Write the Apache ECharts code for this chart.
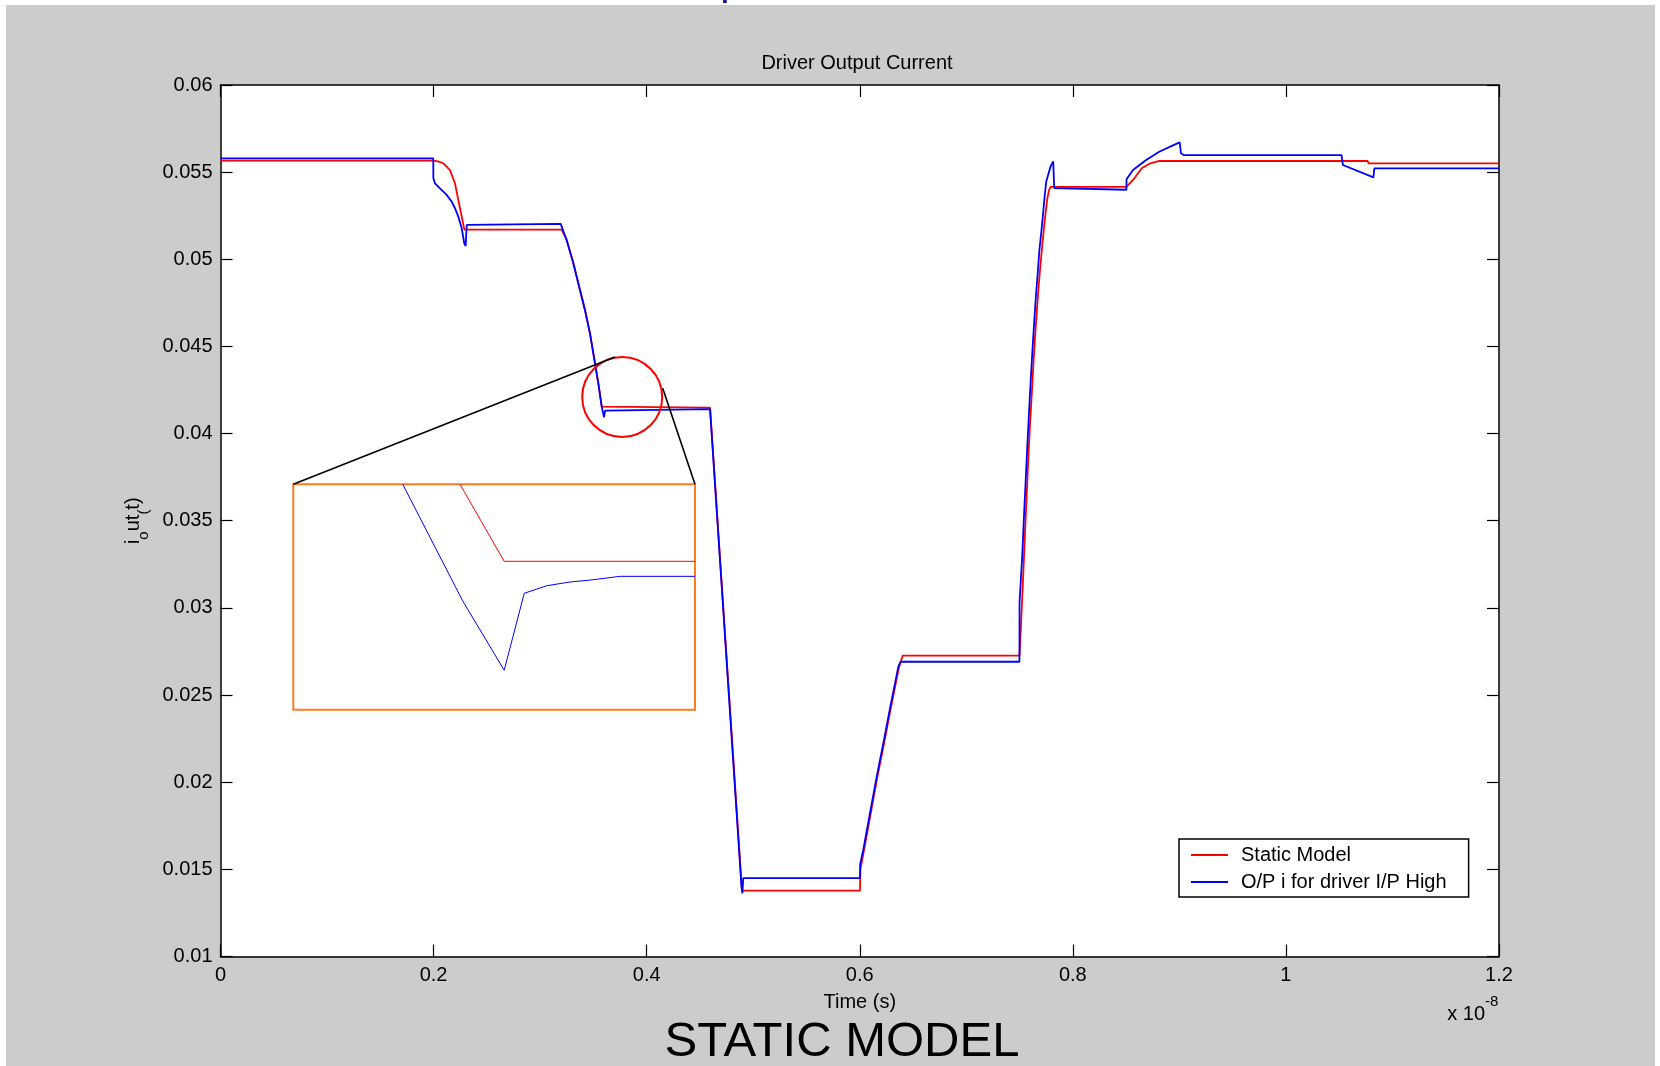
<!DOCTYPE html>
<html><head><meta charset="utf-8">
<script src="https://cdn.jsdelivr.net/npm/echarts@6/dist/echarts.min.js"></script>
<style>
html,body{margin:0;padding:0;background:#ffffff;}
#bg{position:absolute;left:6px;top:5px;width:1649px;height:1061px;background:#cccccc;}
#chart{position:absolute;left:0;top:0;width:1660px;height:1066px;}
</style></head><body>
<div id="bg"></div><div id="chart"></div>
<script>
// ---- data (time in units of 1e-8 s, current in A) ----
const xTicks = [0, 0.2, 0.4, 0.6, 0.8, 1, 1.2];
const yTicks = [0.01, 0.015, 0.02, 0.025, 0.03, 0.035, 0.04, 0.045, 0.05, 0.055, 0.06];
const seriesNames = ['Static Model', 'O/P i for driver I/P High'];

const staticX = [0, 0.1997, 0.2040, 0.2092, 0.2154, 0.2201, 0.2232, 0.2264, 0.2289, 0.3202, 0.3249, 0.3312, 0.3374, 0.3421, 0.3468, 0.3515, 0.3546, 0.3578, 0.3593, 0.4595, 0.4895, 0.6002, 0.6006, 0.6040, 0.6103, 0.6166, 0.6228, 0.6291, 0.6338, 0.6370, 0.6403, 0.7500, 0.7516, 0.7535, 0.7551, 0.7567, 0.7583, 0.7599, 0.7616, 0.7632, 0.7648, 0.7664, 0.7680, 0.7697, 0.7713, 0.7729, 0.7745, 0.7761, 0.7777, 0.7793, 0.8503, 0.8565, 0.8647, 0.8729, 0.8811, 1.0768, 1.0775, 1.2];
const staticY = [0.05566, 0.05566, 0.05562, 0.05551, 0.05512, 0.05436, 0.05340, 0.05245, 0.05170, 0.05170, 0.05111, 0.04977, 0.04824, 0.04709, 0.04575, 0.04403, 0.04289, 0.04155, 0.04149, 0.04149, 0.01378, 0.01378, 0.01500, 0.01611, 0.01822, 0.02032, 0.02223, 0.02424, 0.02567, 0.02663, 0.02726, 0.02726, 0.02938, 0.03195, 0.03432, 0.03649, 0.03867, 0.04064, 0.04242, 0.04420, 0.04578, 0.04717, 0.04855, 0.04973, 0.05082, 0.05181, 0.05270, 0.05349, 0.05398, 0.05416, 0.05416, 0.05455, 0.05522, 0.05551, 0.05564, 0.05564, 0.05550, 0.05550];

const highX = [0, 0.1997, 0.1998, 0.2013, 0.2060, 0.2123, 0.2170, 0.2201, 0.2232, 0.2264, 0.2288, 0.2301, 0.2311, 0.2323, 0.3193, 0.3249, 0.3312, 0.3374, 0.3421, 0.3468, 0.3515, 0.3546, 0.3578, 0.3600, 0.3610, 0.3625, 0.4595, 0.4890, 0.4898, 0.4907, 0.6002, 0.6004, 0.6033, 0.6096, 0.6159, 0.6221, 0.6284, 0.6331, 0.6362, 0.6384, 0.7499, 0.7500, 0.7525, 0.7541, 0.7558, 0.7574, 0.7590, 0.7606, 0.7622, 0.7638, 0.7654, 0.7671, 0.7686, 0.7703, 0.7719, 0.7735, 0.7751, 0.7774, 0.7793, 0.7816, 0.7825, 0.7836, 0.8503, 0.8504, 0.8565, 0.8688, 0.8811, 0.8934, 0.9003, 0.9015, 0.9040, 1.0522, 1.0535, 1.0821, 1.0830, 1.2];
const highY = [0.05579, 0.05579, 0.05465, 0.05436, 0.05407, 0.05369, 0.05331, 0.05293, 0.05245, 0.05178, 0.05092, 0.05076, 0.05197, 0.05203, 0.05203, 0.05111, 0.04977, 0.04824, 0.04709, 0.04575, 0.04403, 0.04289, 0.04155, 0.04094, 0.04132, 0.04140, 0.04140, 0.01400, 0.01362, 0.01450, 0.01450, 0.01530, 0.01611, 0.01822, 0.02032, 0.02223, 0.02424, 0.02567, 0.02663, 0.02691, 0.02691, 0.03037, 0.03294, 0.03521, 0.03738, 0.03946, 0.04134, 0.04321, 0.04489, 0.04647, 0.04795, 0.04924, 0.05052, 0.05151, 0.05250, 0.05359, 0.05448, 0.05497, 0.05536, 0.05562, 0.05408, 0.05399, 0.05399, 0.05459, 0.05512, 0.05570, 0.05617, 0.05652, 0.05671, 0.05608, 0.05598, 0.05598, 0.05541, 0.05470, 0.05522, 0.05522];

// zoomed inset (magnified view of the circled corner near t = 0.36e-8 s)
const insetRangeX = [0.35, 0.37];
const insetRangeY = [0.0407, 0.0419];
const insetStaticX = [0.3583, 0.3605, 0.3700];
const insetStaticY = [0.04190, 0.04149, 0.04149];
const insetHighX = [0.35545, 0.35843, 0.3605, 0.3615, 0.36262, 0.36378, 0.36477, 0.36627, 0.3700];
const insetHighY = [0.04190, 0.04128, 0.04091, 0.04132, 0.04136, 0.04138, 0.04139, 0.04141, 0.04141];

// ---- build ----
const zip = (xs, ys) => xs.map((x, i) => [x, ys[i]]);
const FONT = '"Liberation Sans", Arial, sans-serif';
const RED = '#ff0000', BLUE = '#0000ff';

const chart = echarts.init(document.getElementById('chart'), null, {renderer: 'canvas'});

const mainGrid = {left: 220.5, top: 85, right: 161, bottom: 109.5};
const insetGrid = {left: 293.3, top: 484.3, width: 401.7, height: 225.4};

const axisCommonX = {
  type: 'value', gridIndex: 0,
  min: xTicks[0], max: xTicks[xTicks.length - 1], interval: xTicks[1] - xTicks[0],
  splitLine: {show: false},
  axisLine: {show: true, onZero: false, lineStyle: {color: '#000', width: 1.5}},
  axisTick: {show: true, inside: true, length: 12, lineStyle: {color: '#000', width: 1.2}}
};
const axisCommonY = {
  type: 'value', gridIndex: 0,
  min: yTicks[0], max: yTicks[yTicks.length - 1], interval: 0.005,
  splitLine: {show: false},
  axisLine: {show: true, onZero: false, lineStyle: {color: '#000', width: 1.5}},
  axisTick: {show: true, inside: true, length: 12, lineStyle: {color: '#000', width: 1.2}}
};

chart.setOption({
  animation: false,
  backgroundColor: 'transparent',
  title: {
    text: 'Driver Output Current',
    left: 852, top: 47, textAlign: 'center',
    textStyle: {fontFamily: FONT, fontSize: 20, fontWeight: 'normal', color: '#000', lineHeight: 22}
  },
  legend: {
    data: seriesNames,
    orient: 'vertical',
    left: 1179, top: 839,
    padding: [6, 22, 5, 11],
    itemGap: 7, itemWidth: 37, itemHeight: 20,
    backgroundColor: '#ffffff',
    borderColor: '#000', borderWidth: 1.5, borderRadius: 0,
    selectedMode: false,
    itemStyle: {color: 'transparent', opacity: 0, borderWidth: 0},
    textStyle: {fontFamily: FONT, fontSize: 20, color: '#000', lineHeight: 20, padding: [0, 0, 0, 8]}
  },
  grid: [
    Object.assign({show: true, backgroundColor: '#ffffff', borderWidth: 0, outerBoundsMode: 'none', containLabel: false}, mainGrid),
    Object.assign({show: true, backgroundColor: '#ffffff', borderColor: '#ff7a21', borderWidth: 2, outerBoundsMode: 'none', containLabel: false}, insetGrid)
  ],
  xAxis: [
    Object.assign({}, axisCommonX, {
      position: 'bottom',
      axisLabel: {show: true, margin: 9, fontFamily: FONT, fontSize: 20, color: '#000',
        formatter: v => String(+v.toFixed(1))},
      name: 'Time (s)', nameLocation: 'middle', nameGap: 36,
      nameTextStyle: {fontFamily: FONT, fontSize: 20, color: '#000'}
    }),
    Object.assign({}, axisCommonX, {position: 'top', axisLabel: {show: false}}),
    {type: 'value', gridIndex: 1, min: insetRangeX[0], max: insetRangeX[1], show: false}
  ],
  yAxis: [
    Object.assign({}, axisCommonY, {
      position: 'left',
      axisLabel: {show: true, margin: 8, fontFamily: FONT, fontSize: 20, color: '#000',
        formatter: v => String(+v.toFixed(3))},
      name: '{n|i}{s|o}{n|ut}{s|(}{n|t)}',
      nameLocation: 'middle', nameRotate: 90, nameGap: 75,
      nameTextStyle: {
        fontFamily: FONT, color: '#000',
        rich: {
          n: {fontFamily: FONT, fontSize: 20, color: '#000', lineHeight: 22, verticalAlign: 'top'},
          s: {fontFamily: FONT, fontSize: 15, color: '#000', lineHeight: 16, padding: [13, 0, 0, 0], verticalAlign: 'top'}
        }
      }
    }),
    Object.assign({}, axisCommonY, {position: 'right', axisLabel: {show: false}}),
    {type: 'value', gridIndex: 1, min: insetRangeY[0], max: insetRangeY[1], show: false}
  ],
  series: [
    {name: seriesNames[0], type: 'line', xAxisIndex: 0, yAxisIndex: 0, data: zip(staticX, staticY),
      symbol: 'none', showSymbol: false, clip: true, lineStyle: {color: RED, width: 1.8}, itemStyle: {color: RED}, z: 3},
    {name: seriesNames[1], type: 'line', xAxisIndex: 0, yAxisIndex: 0, data: zip(highX, highY),
      symbol: 'none', showSymbol: false, clip: true, lineStyle: {color: BLUE, width: 1.8}, itemStyle: {color: BLUE}, z: 4},
    {name: 'inset-static', type: 'line', xAxisIndex: 2, yAxisIndex: 2, data: zip(insetStaticX, insetStaticY),
      symbol: 'none', showSymbol: false, clip: true, silent: true, lineStyle: {color: RED, width: 1}, itemStyle: {color: RED}, z: 3},
    {name: 'inset-high', type: 'line', xAxisIndex: 2, yAxisIndex: 2, data: zip(insetHighX, insetHighY),
      symbol: 'none', showSymbol: false, clip: true, silent: true, lineStyle: {color: BLUE, width: 1}, itemStyle: {color: BLUE}, z: 4}
  ],
  graphic: [
    {type: 'circle', shape: {cx: 622.2, cy: 397, r: 40}, style: {fill: 'none', stroke: RED, lineWidth: 2}, z: 100, silent: true},
    {type: 'line', shape: {x1: 293.3, y1: 484.3, x2: 615, y2: 357}, style: {stroke: '#000', lineWidth: 1.6}, z: 100, silent: true},
    {type: 'line', shape: {x1: 662.7, y1: 388.3, x2: 695, y2: 484.3}, style: {stroke: '#000', lineWidth: 1.6}, z: 100, silent: true},
    {type: 'text', x: 1485, y: 1014, style: {text: 'x 10', font: '20px ' + FONT, fill: '#000', align: 'right', verticalAlign: 'middle'}, silent: true},
    {type: 'text', x: 1485, y: 1002, style: {text: '-8', font: '15px ' + FONT, fill: '#000', align: 'left', verticalAlign: 'middle'}, silent: true},
    {type: 'text', x: 842, y: 1042, style: {text: 'STATIC MODEL', font: '49px ' + FONT, fill: '#000', align: 'center', verticalAlign: 'middle'}, silent: true},
    {type: 'text', x: 720, y: -18, style: {text: 'p', font: '44px ' + FONT, fill: '#1c1c96', align: 'left', verticalAlign: 'middle'}, silent: true}
  ]
});
</script>
</body></html>
